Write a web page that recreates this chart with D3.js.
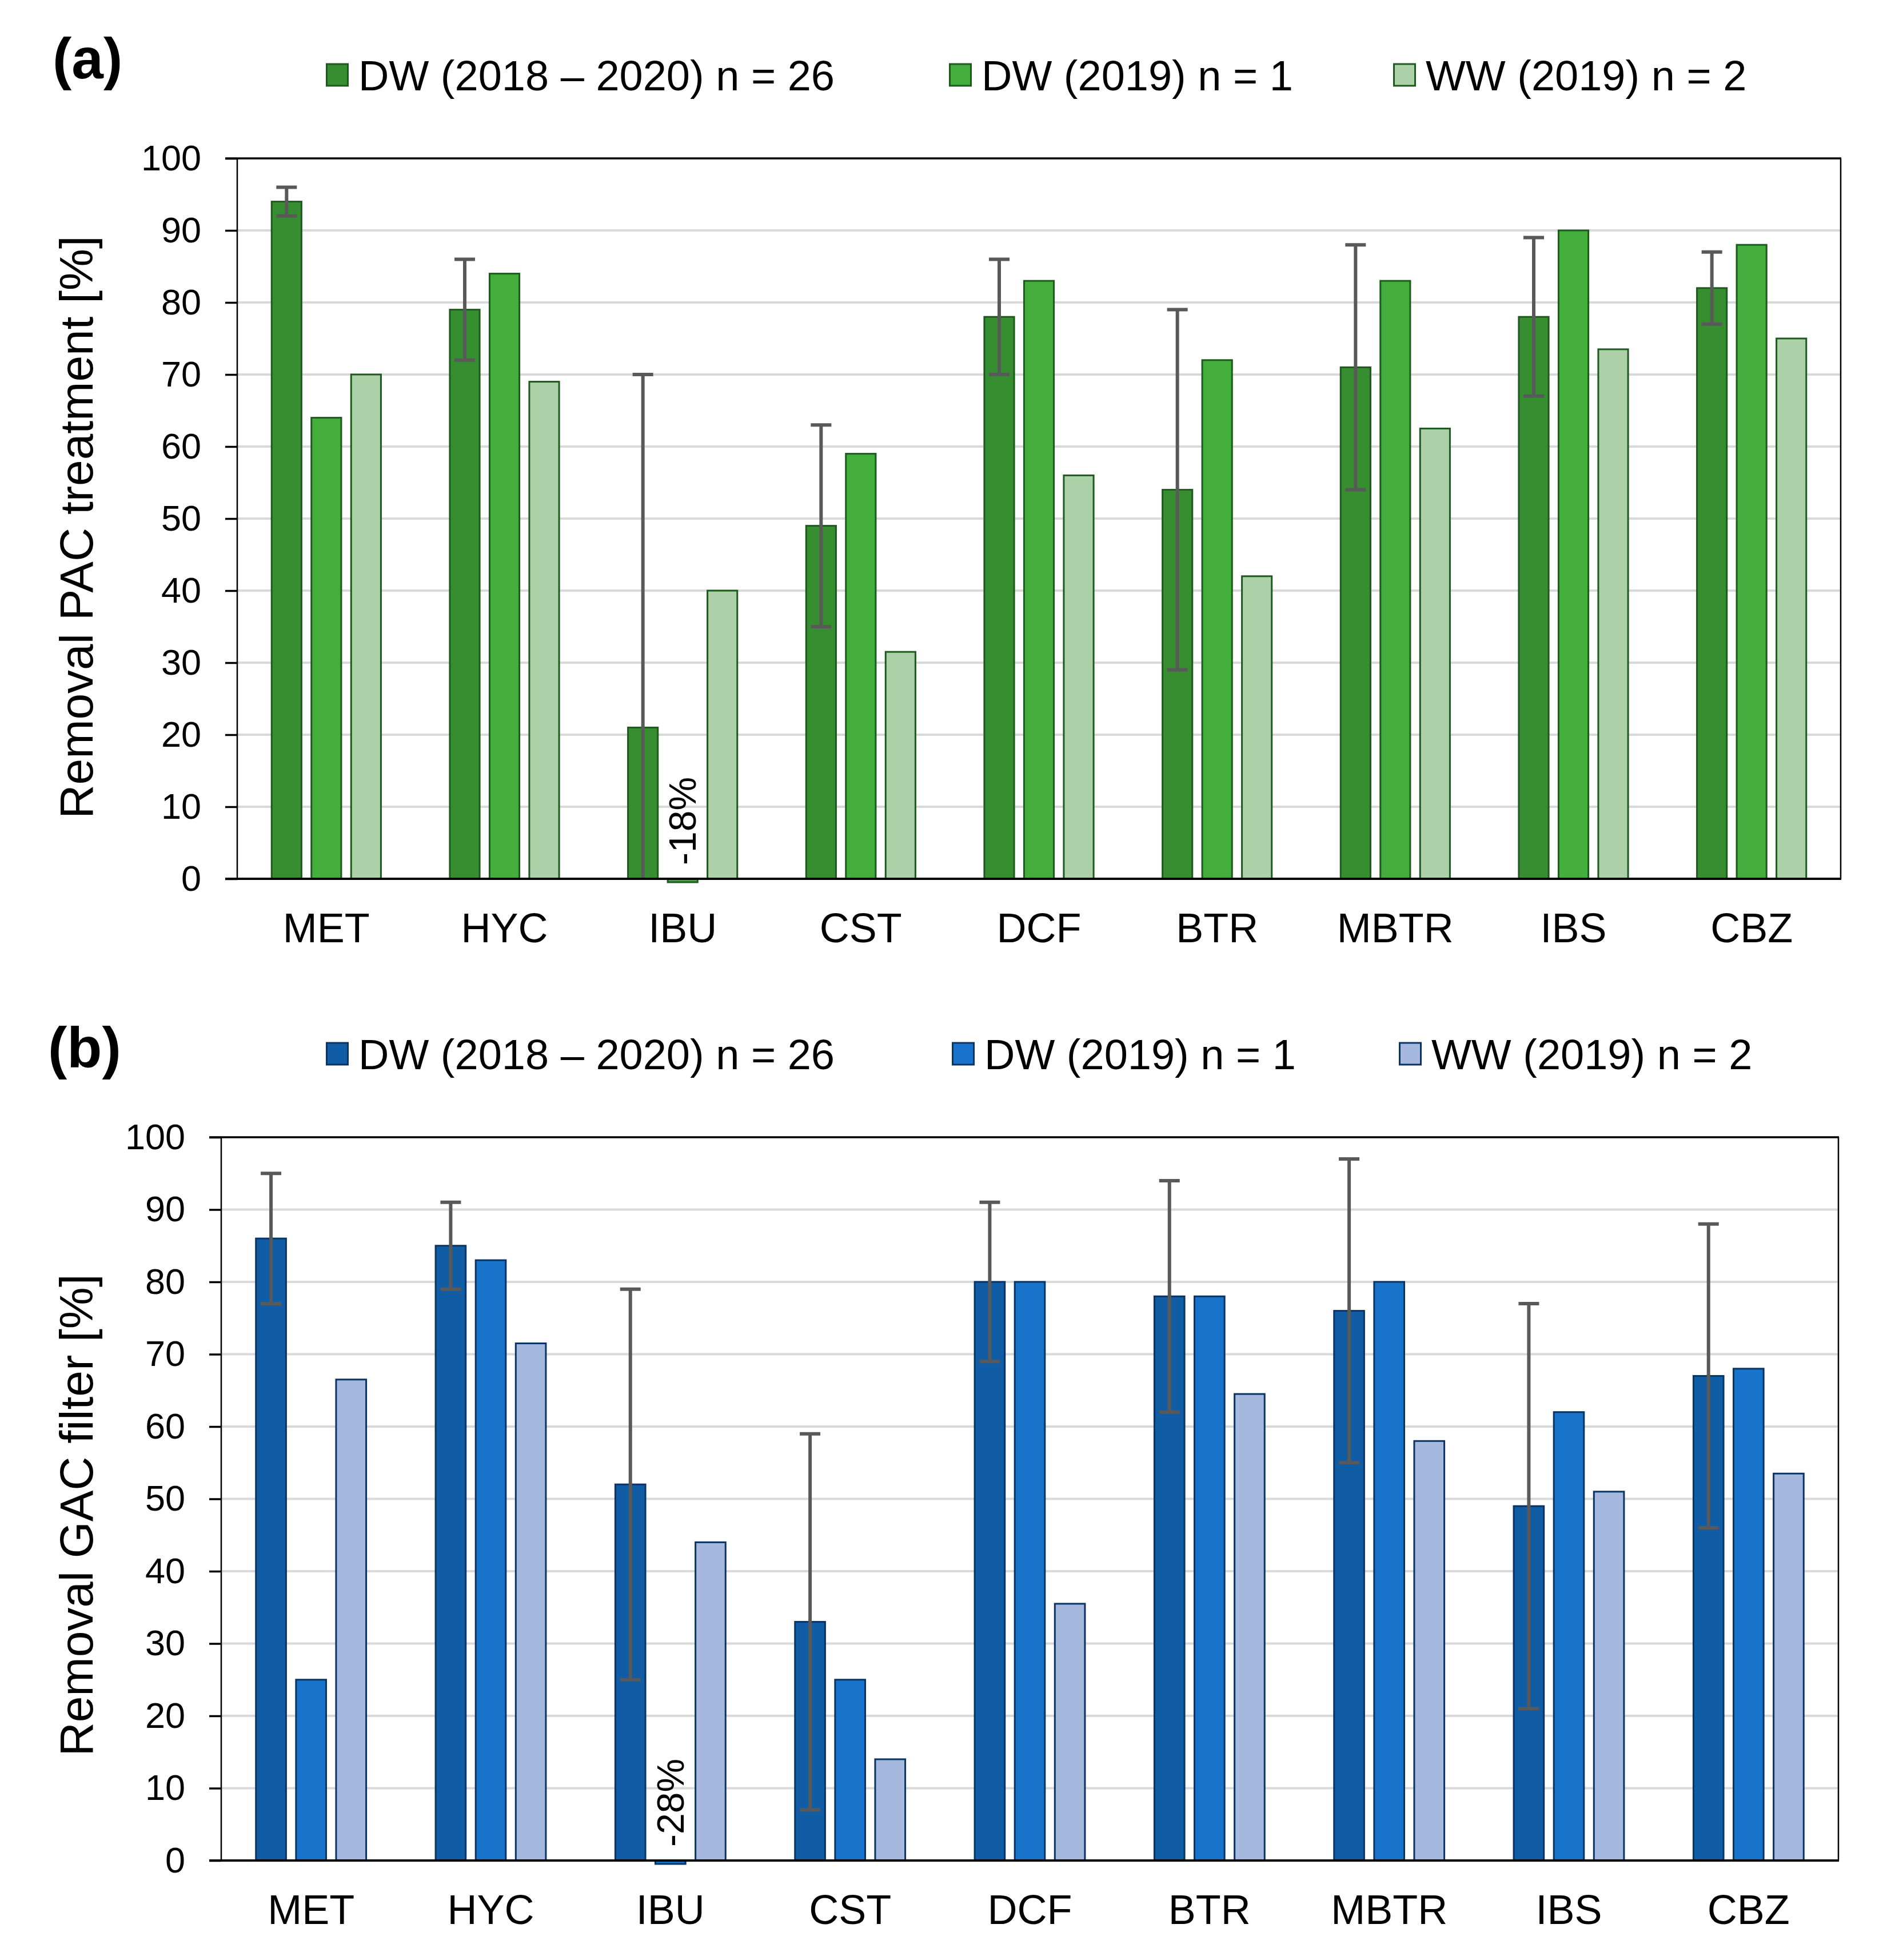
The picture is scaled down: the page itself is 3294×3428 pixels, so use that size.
<!DOCTYPE html>
<html>
<head>
<meta charset="utf-8">
<script src="https://cdn.jsdelivr.net/npm/d3@7"></script>
<style>
  html, body { margin: 0; padding: 0; background: #ffffff; }
  svg { display: block; }
  text { font-family: "Liberation Sans", Arial, Helvetica, sans-serif; fill: #000; }
</style>
</head>
<body>
<svg id="chart" width="3294" height="3428"></svg>
<script>
// ---------------- DATA ----------------
const categories = ["MET", "HYC", "IBU", "CST", "DCF", "BTR", "MBTR", "IBS", "CBZ"];
const seriesNames = ["DW (2018 \u2013 2020) n = 26", "DW (2019) n = 1", "WW (2019) n = 2"];
const yTicks = [0, 10, 20, 30, 40, 50, 60, 70, 80, 90, 100];

// (a) PAC treatment
const pacDW26    = [94, 79, 21, 49, 78, 54, 71, 78, 82];
const pacDW26Err = [2, 7, 49, 14, 8, 25, 17, 11, 5];
const pacDW19    = [64, 84, -18, 59, 83, 72, 83, 90, 88];
const pacWW      = [70, 69, 40, 31.5, 56, 42, 62.5, 73.5, 75];

// (b) GAC filter
const gacDW26    = [86, 85, 52, 33, 80, 78, 76, 49, 67];
const gacDW26Err = [9, 6, 27, 26, 11, 16, 21, 28, 21];
const gacDW19    = [25, 83, -28, 25, 80, 78, 80, 62, 68];
const gacWW      = [66.5, 71.5, 44, 14, 35.5, 64.5, 58, 51, 53.5];

// ---------------- LAYOUT / STYLE ----------------
const panels = [
  {
    tag: "(a)", tagX: 92, tagY: 137,
    title: "Removal PAC treatment [%]", titleX: 133, titleY: 922,
    plot: { l: 415, r: 3220, t: 277, b: 1537 },
    legendBaseline: 158, legendSq: [570, 1660, 2437],
    series: [pacDW26, pacDW19, pacWW], err: pacDW26Err,
    fills: ["#378E30", "#43AE3B", "#ACD0A8"], stroke: "#1E5A1E"
  },
  {
    tag: "(b)", tagX: 84, tagY: 1867,
    title: "Removal GAC filter [%]", titleX: 133, titleY: 2650,
    plot: { l: 387, r: 3216, t: 1989, b: 3254 },
    legendBaseline: 1870, legendSq: [570, 1665, 2447],
    series: [gacDW26, gacDW19, gacWW], err: gacDW26Err,
    fills: ["#105CA5", "#1874CA", "#A5B8DE"], stroke: "#0A3464"
  }
];

const svg = d3.select("#chart");

panels.forEach(p => {
  const g = svg.append("g");
  const { l, r, t, b } = p.plot;

  const x0 = d3.scaleBand().domain(categories).range([l, r]).paddingInner(0).paddingOuter(0);
  const band = x0.bandwidth();
  const step = band * 0.223;
  const barW = band * 0.177;
  const pIn = 1 - barW / step;
  const x1 = d3.scaleBand().domain(d3.range(3))
    .range([-(1.5 * step - (step - barW) / 2), 1.5 * step - (step - barW) / 2])
    .paddingInner(pIn).paddingOuter(0);

  const y = d3.scaleLinear().domain([0, 100]).range([b, t]);
  const yc = v => y(Math.max(0, Math.min(100, v)));

  // gridlines
  g.append("g").selectAll("line").data(yTicks.filter(d => d > 0 && d < 100)).join("line")
    .attr("x1", l).attr("x2", r)
    .attr("y1", d => y(d)).attr("y2", d => y(d))
    .attr("stroke", "#D9D9D9").attr("stroke-width", 4);

  // bars
  p.series.forEach((vals, si) => {
    g.append("g").selectAll("rect").data(vals).join("rect")
      .attr("x", (d, i) => x0(categories[i]) + band / 2 + x1(si) + 1.5)
      .attr("width", x1.bandwidth() - 3)
      .attr("y", d => d >= 0 ? y(d) : y(0))
      .attr("height", d => d >= 0 ? y(0) - y(d) : 6)
      .attr("fill", p.fills[si])
      .attr("stroke", p.stroke).attr("stroke-width", 3);
  });

  // negative value labels
  p.series.forEach((vals, si) => {
    vals.forEach((d, i) => {
      if (d < 0) {
        const cx = x0(categories[i]) + band / 2 + x1(si) + x1.bandwidth() / 2;
        const sy = y(0) - 24;
        g.append("text")
          .attr("transform", `translate(${cx},${sy}) rotate(-90)`)
          .attr("text-anchor", "start")
          .attr("dominant-baseline", "central")
          .attr("font-size", 66)
          .text(d + "%");
      }
    });
  });

  // error bars on first series
  const eg = g.append("g");
  p.series[0].forEach((d, i) => {
    const cx = x0(categories[i]) + band / 2 + x1(0) + x1.bandwidth() / 2;
    const hi = d + p.err[i], lo = d - p.err[i];
    eg.append("line").attr("x1", cx).attr("x2", cx)
      .attr("y1", yc(hi)).attr("y2", yc(lo))
      .attr("stroke", "#595959").attr("stroke-width", 6);
    [hi, lo].forEach(v => {
      if (v >= 0 && v <= 100) {
        eg.append("line").attr("x1", cx - 18).attr("x2", cx + 18)
          .attr("y1", y(v)).attr("y2", y(v))
          .attr("stroke", "#595959").attr("stroke-width", 6);
      }
    });
  });

  // frame
  g.append("line").attr("x1", l).attr("x2", l).attr("y1", t).attr("y2", b).attr("stroke", "#000").attr("stroke-width", 2.5);
  g.append("line").attr("x1", r).attr("x2", r).attr("y1", t).attr("y2", b).attr("stroke", "#000").attr("stroke-width", 2.5);
  g.append("line").attr("x1", l - 21).attr("x2", r + 1).attr("y1", t).attr("y2", t).attr("stroke", "#000").attr("stroke-width", 3.5);
  g.append("line").attr("x1", l - 21).attr("x2", r + 1).attr("y1", b).attr("y2", b).attr("stroke", "#000").attr("stroke-width", 4);

  // y axis
  const yAxis = d3.axisLeft(y).tickValues(yTicks).tickSize(21).tickPadding(42).tickFormat(d3.format("d"));
  const ya = g.append("g").attr("transform", `translate(${l},0)`).call(yAxis);
  ya.select(".domain").remove();
  ya.selectAll(".tick line").attr("stroke", "#000").attr("stroke-width", 3.5);
  ya.selectAll(".tick text").attr("font-size", 63).attr("font-family", "Liberation Sans, Arial, sans-serif").attr("fill", "#000");

  // x axis category labels
  const xAxis = d3.axisBottom(x0).tickSize(0).tickPadding(60);
  const xa = g.append("g").attr("transform", `translate(0,${b})`).call(xAxis);
  xa.select(".domain").remove();
  xa.selectAll(".tick text").attr("font-size", 72).attr("font-family", "Liberation Sans, Arial, sans-serif").attr("fill", "#000").attr("dy", "0.71em");

  // y title
  g.append("text")
    .attr("transform", `translate(${p.titleX},${p.titleY}) rotate(-90)`)
    .attr("text-anchor", "middle").attr("dominant-baseline", "central")
    .attr("font-size", 82).text(p.title);

  // panel tag
  g.append("text").attr("x", p.tagX).attr("y", p.tagY)
    .attr("font-size", 100).attr("font-weight", "bold").text(p.tag);

  // legend
  seriesNames.forEach((name, si) => {
    const sx = p.legendSq[si];
    g.append("rect").attr("x", sx + 1.5).attr("y", p.legendBaseline - 46)
      .attr("width", 37).attr("height", 38)
      .attr("fill", p.fills[si]).attr("stroke", p.stroke).attr("stroke-width", 3);
    g.append("text").attr("x", sx + 57).attr("y", p.legendBaseline)
      .attr("font-size", 74).text(name);
  });
});
</script>
</body>
</html>
